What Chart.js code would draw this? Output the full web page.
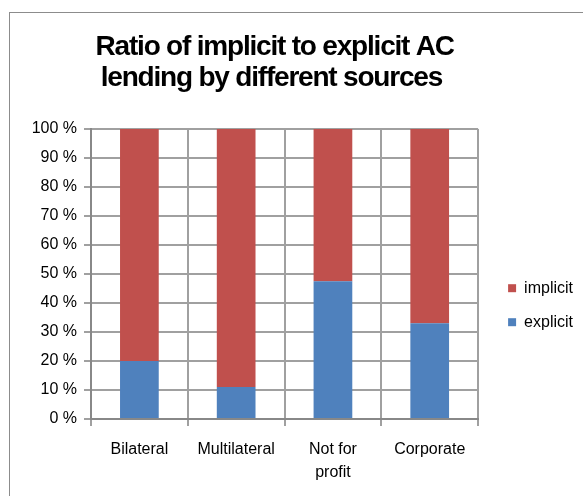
<!DOCTYPE html>
<html>
<head>
<meta charset="utf-8">
<title>AC lending</title>
<script src="https://cdn.jsdelivr.net/npm/chart.js@4"></script>
<style>
  html, body { margin: 0; padding: 0; background: #fff; overflow: hidden; }
  #wrap { position: relative; width: 583px; height: 496px; }
  #frame {
    position: absolute; left: 9px; top: 12px;
    width: 700px; height: 600px;
    border: 1px solid #8c8c8c; pointer-events: none;
  }
  canvas { position: absolute; left: 0; top: 0; }
</style>
</head>
<body>
<div id="wrap">
  <canvas id="lendingChart" width="583" height="496"></canvas>
  <div id="frame"></div>
</div>
<script>
// Lending sources (x-axis)
const sources = ['Bilateral', 'Multilateral', ['Not for', 'profit'], 'Corporate'];

// Share of AC lending per source, in percent
const explicitShare = [20, 11, 47.5, 33];
const implicitShare = [80, 89, 52.5, 67];

// Y-axis tick labels
const yTicks = [0, 10, 20, 30, 40, 50, 60, 70, 80, 90, 100];

const baseFont = 'Liberation Sans, Arial, sans-serif';
const gridColor = '#a0a0a0';
const axisColor = '#888888';

// Title text is set tight, so squeeze the letters while the title draws
const tightTitle = {
    id: 'tightTitle',
    beforeDraw(chart) {
        const block = chart.titleBlock;
        if (block && !block._tight) {
            const draw = block.draw.bind(block);
            block.draw = function() {
                chart.ctx.save();
                chart.ctx.letterSpacing = '-1.2px';
                draw();
                chart.ctx.restore();
            };
            block._tight = true;
        }
    }
};

const ctx = document.getElementById('lendingChart').getContext('2d');
const lendingChart = new Chart(ctx, {
    type: 'bar',
    data: {
        labels: sources,
        datasets: [{
            label: 'explicit',
            data: explicitShare,
            backgroundColor: '#4F81BD',
            borderWidth: 0,
        }, {
            label: 'implicit',
            data: implicitShare,
            backgroundColor: '#C0504D',
            borderWidth: 0,
        }]
    },
    options: {
        responsive: false,
        animation: false,
        layout: { padding: { left: 0, right: 0, top: 0, bottom: 0 } },
        datasets: {
            bar: { categoryPercentage: 1.0, barPercentage: 0.4 }
        },
        scales: {
            x: {
                stacked: true,
                grid: { color: gridColor, lineWidth: 2, tickLength: 7, offset: true },
                border: { color: axisColor, width: 2 },
                ticks: {
                    color: '#000',
                    maxRotation: 0,
                    padding: 12,
                    font: { family: baseFont, size: 16, lineHeight: 1.45 }
                },
                afterFit: function(scale) { scale.height = 77; }
            },
            y: {
                stacked: true,
                min: 0,
                max: 100,
                afterBuildTicks: function(scale) {
                    scale.ticks = yTicks.map(v => ({ value: v }));
                },
                grid: { color: gridColor, lineWidth: 2, tickLength: 7 },
                border: { color: axisColor, width: 2 },
                ticks: {
                    color: '#000',
                    padding: 7,
                    font: { family: baseFont, size: 16 },
                    callback: function(value) { return value + ' %'; }
                },
                afterFit: function(scale) { scale.width = 91; }
            },
            // empty strip between the plot and the legend
            gap: {
                type: 'linear',
                position: 'right',
                display: true,
                grid: { display: false },
                border: { display: false },
                ticks: { display: false },
                afterFit: function(scale) { scale.width = 12; }
            }
        },
        plugins: {
            title: {
                display: true,
                fullSize: false,
                // trailing spaces nudge the centred lines a little to the left
                text: ['Ratio of implicit to explicit AC   ', 'lending by different sources    '],
                color: '#000',
                font: { family: baseFont, size: 28, weight: 'bold', lineHeight: 1.125 },
                padding: { top: 31.5, bottom: 34.5 }
            },
            legend: {
                position: 'right',
                align: 'center',
                fullSize: false,
                reverse: true,
                title: {
                    display: true,
                    text: '',
                    padding: { top: 0, bottom: 48 }
                },
                labels: {
                    color: '#000',
                    boxWidth: 8,
                    boxHeight: 8,
                    padding: 18,
                    font: { family: baseFont, size: 16 }
                }
            },
            tooltip: { enabled: false }
        }
    },
    plugins: [tightTitle]
});
</script>
</body>
</html>
